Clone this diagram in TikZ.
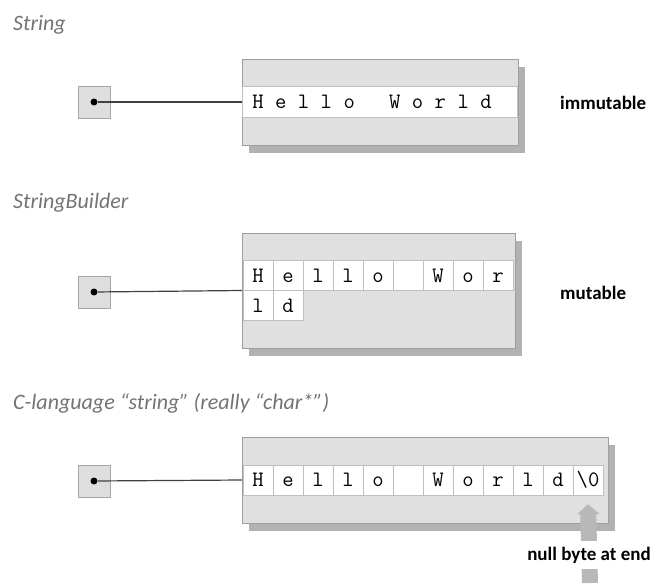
\documentclass[tikz,border=0pt]{standalone}
\usepackage{fontspec}
\setsansfont{Carlito}
\usetikzlibrary{arrows.meta,shadows}

\begin{document}
\begin{tikzpicture}[x=1pt,y=-1pt,
    title/.style={font=\sffamily\itshape\fontsize{22}{22}\selectfont,text=black!55,anchor=base west,inner sep=0pt},
    note/.style={font=\sffamily\bfseries\fontsize{19}{19}\selectfont,anchor=west,inner sep=0pt},
    holder/.style={draw=black!38,fill=black!12,
        drop shadow={shadow xshift=7pt,shadow yshift=-8pt,fill=black!30,opacity=1}},
    cell/.style={draw=black!25,fill=white,minimum width=30pt,minimum height=30pt,inner sep=0pt,
        font=\ttfamily\fontsize{22}{22}\selectfont,text height=13pt,text depth=0pt}]
	\useasboundingbox (0,0) rectangle (652,583);
	% section titles
	\node[title] (tS) at (13,31) {String};
	\node[title] (tB) at (13,208) {StringBuilder};
	\node[title] (tC) at (13,409) {C-language “string” (really “char*”)};
	% the variables
	\begin{scope}[every node/.style={draw=black!35,fill=black!13,minimum size=32pt,inner sep=0pt}]
    	\node (pS) at (94,102) {};
    	\node (pB) at (94,292) {};
    	\node (pC) at (94,481) {};
	\end{scope}
	% the objects
	\node[holder,minimum width=276pt,minimum height=86pt] (oS) at (380,102) {};
	\node[holder,minimum width=273pt,minimum height=115pt] (oB) at (378.5,290.5) {};
	\node[holder,minimum width=366pt,minimum height=86pt] (oC) at (425,480) {};
	\node[draw=black!25,fill=white,minimum width=275pt,minimum height=31pt] (band) at (oS) {};
	\foreach \ch [count=\i from 0] in {H,e,l,l,o,{},W,o,r,l,d}
    	\node[cell,draw=none,fill=none] (s\i) at (258+22.8*\i,102.5) {\ch};
	\foreach \ch [count=\i from 0] in {H,e,l,l,o,{},W,o,r}
    	\node[cell] (b\i) at (258+30*\i,275.5) {\ch};
	\foreach \ch [count=\i from 9] in {l,d}
    	\node[cell] (b\i) at (258+30*\i-270,305.5) {\ch};
	\foreach \ch [count=\i from 0] in {H,e,l,l,o,{},W,o,r,l,d,{\textbackslash 0}}
    	\node[cell] (c\i) at (258+30*\i,480) {\ch};
	% references
	\begin{scope}[every node/.style={circle,fill=black,minimum size=7pt,inner sep=0pt},
              every path/.style={draw=black!75,line width=1.2pt}]
    	\node (dS) at (pS) {};
    	\node (dB) at (pB) {};
    	\node (dC) at (pC) {};
    	\path (dS) -- (oS.west);
    	\path (dB) -- (oB.west);
    	\path (dC) -- (oC.west);
	\end{scope}
	% notes
	\node[note] (nS) at (560,103) {immutable};
	\node[note] (nB) at (560,293) {mutable};
	\coordinate (foot) at (590,583);
	\draw[draw=black!28,line width=16pt,-{Triangle[length=10pt,width=22pt]}] (foot) -- ([yshift=-9pt]c11.south);
	\node[note,anchor=center,fill=white,inner xsep=2pt,inner ysep=6pt] (nC) at (589,555) {null byte at end};
\end{tikzpicture}
\end{document}
